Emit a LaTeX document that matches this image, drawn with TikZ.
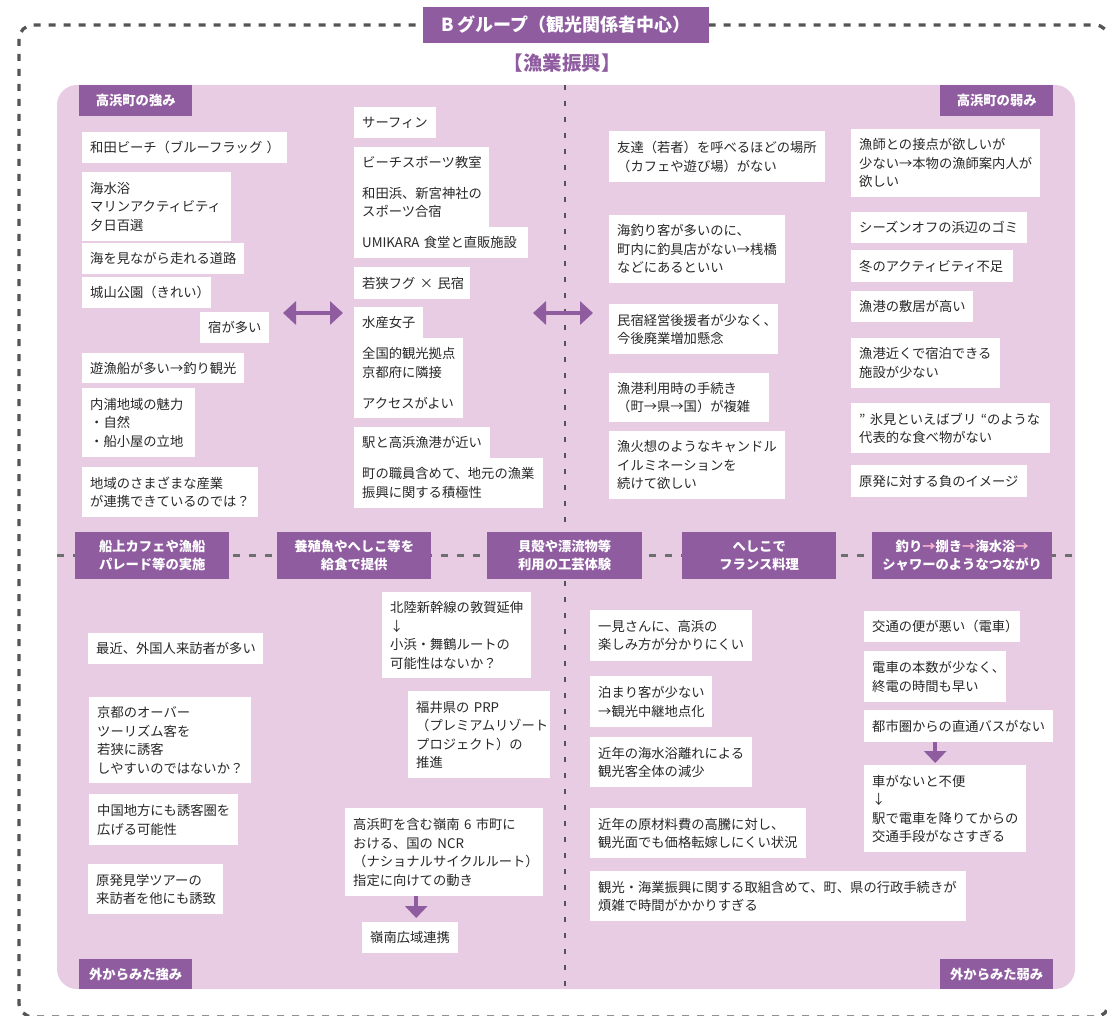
\documentclass[tikz,border=0pt]{standalone}
\usepackage{fontspec}
\setmainfont{Noto Sans CJK JP}
\usepackage{xcolor}
\definecolor{tkpurple}{RGB}{143,92,160}
\definecolor{tkpink}{RGB}{231,204,227}
\definecolor{tkgray}{RGB}{85,85,85}
\definecolor{tktext}{RGB}{40,40,40}
\definecolor{tkarrow}{RGB}{249,182,206}
\usetikzlibrary{arrows.meta,positioning,calc}

\begin{document}
\begin{tikzpicture}[x=1pt, y=-1pt,
  every node/.style={font=\fontsize{13.3}{18.5}\selectfont},
  cell/.style={fill=white, text=tktext, anchor=north west, align=left, inner xsep=8pt, inner ysep=0pt},
  tag/.style={fill=tkpurple, text=white, font=\fontsize{13.3}{18}\selectfont\bfseries, align=center, inner sep=0pt, anchor=north west},
  frame/.style={draw=tkgray, line width=3.3pt, dash pattern=on 7pt off 8pt, rounded corners=14pt},
  vline/.style={draw=tkgray, line width=2.5pt, dash pattern=on 5pt off 11pt},
  hline/.style={draw=tkgray!85, line width=3pt, dash pattern=on 7pt off 9pt},
  dblarrow/.style={draw=tkpurple, line width=4pt, {Triangle[length=13pt,width=23pt]}-{Triangle[length=13pt,width=23pt]}},
  dnarrow/.style={draw=tkpurple, line width=4pt, -{Triangle[length=12pt,width=22pt]}}]
  \clip (0,0) rectangle (1107,1016);

  % Outer frame and panel
  \draw[frame] (19,25) rectangle (1109,1017);
  \fill[tkpink, rounded corners=20pt] (57,85) rectangle (1075,989);
  \draw[vline] (565,85) -- (565,989);
  \draw[hline] (57,555) -- (1075,555);

  % Title
  \node[tag, anchor=center, minimum width=286pt, minimum height=36pt, font=\fontsize{18}{20}\selectfont\bfseries] (title) at (566,25) {B グループ（観光関係者中心）};
  \node[text=tkpurple, font=\fontsize{19.5}{21}\selectfont\bfseries, inner sep=0pt] (subtitle) at (562,63) {【漁業振興】};

  % Corner tags
  \node[tag, minimum width=113pt, minimum height=31pt] (tagst) at (79,85) {高浜町の強み};
  \node[tag, minimum width=113pt, minimum height=31pt] (tagwk) at (940,85) {高浜町の弱み};
  \node[tag, minimum width=113pt, minimum height=30pt] (tagos) at (79,959) {外からみた強み};
  \node[tag, minimum width=113pt, minimum height=30pt] (tagow) at (940,959) {外からみた弱み};

  % Strengths (left column)
  \node[cell, text width=189pt, minimum height=31pt] (st1) at (82,132) {和田ビーチ（ブルーフラッグ~）};
  \node[cell, text width=133pt, minimum height=69pt] (st2) at (82,172) {海水浴\\マリンアクティビティ\\夕日百選};
  \node[cell, text width=146pt, minimum height=31pt] (st3) at (82,243) {海を見ながら走れる道路};
  \node[cell, text width=113pt, minimum height=31pt] (st4) at (82,277) {城山公園（きれい）};
  \node[cell, text width=53pt, minimum height=31pt] (st5) at (200,312) {宿が多い};
  \node[cell, text width=146pt, minimum height=30pt] (st6) at (82,353) {遊漁船が多い→釣り観光};
  \node[cell, text width=97pt, minimum height=69pt] (st7) at (82,388) {内浦地域の魅力\\・自然\\・船小屋の立地};
  \node[cell, text width=160pt, minimum height=50pt] (st8) at (82,467) {地域のさまざまな産業\\が連携できているのでは？};

  % Strengths (middle column)
  \node[cell, text width=66pt, minimum height=31pt] (st9) at (354,107) {サーフィン};
  \node[cell, text width=119pt, minimum height=31pt] (st10) at (354,147) {ビーチスポーツ教室};
  \node[cell, text width=119pt, minimum height=49pt] (st11) at (354,178) {和田浜、新宮神社の\\スポーツ合宿};
  \node[cell, text width=158pt, minimum height=31pt] (st12) at (354,227) {UMIKARA~食堂と直販施設};
  \node[cell, text width=100pt, minimum height=32pt] (st13) at (354,267) {若狭フグ~×~民宿};
  \node[cell, text width=53pt, minimum height=31pt] (st14) at (354,307) {水産女子};
  \node[cell, text width=93pt, minimum height=49pt] (st15) at (354,338) {全国的観光拠点\\京都府に隣接};
  \node[cell, text width=93pt, minimum height=31pt] (st16) at (354,387) {アクセスがよい};
  \node[cell, text width=120pt, minimum height=31pt] (st17) at (354,427) {駅と高浜漁港が近い};
  \node[cell, text width=173pt, minimum height=50pt] (st18) at (354,458) {町の職員含めて、地元の漁業\\振興に関する積極性};

  % Weaknesses
  \node[cell, text width=200pt, minimum height=51pt] (wk1) at (609,131) {友達（若者）を呼べるほどの場所\\（カフェや遊び場）がない};
  \node[cell, text width=160pt, minimum height=68pt] (wk2) at (609,215) {海釣り客が多いのに、\\町内に釣具店がない→桟橋\\などにあるといい};
  \node[cell, text width=153pt, minimum height=50pt] (wk3) at (609,304) {民宿経営後援者が少なく、\\今後廃業増加懸念};
  \node[cell, text width=144pt, minimum height=49pt] (wk4) at (609,373) {漁港利用時の手続き\\（町→県→国）が複雑};
  \node[cell, text width=160pt, minimum height=68pt] (wk5) at (609,431) {漁火想のようなキャンドル\\イルミネーションを\\続けて欲しい};
  \node[cell, text width=173pt, minimum height=68pt] (wk6) at (851,129) {漁師との接点が欲しいが\\少ない→本物の漁師案内人が\\欲しい};
  \node[cell, text width=160pt, minimum height=31pt] (wk7) at (851,212) {シーズンオフの浜辺のゴミ};
  \node[cell, text width=146pt, minimum height=32pt] (wk8) at (851,250) {冬のアクティビティ不足};
  \node[cell, text width=106pt, minimum height=31pt] (wk9) at (851,291) {漁港の敷居が高い};
  \node[cell, text width=133pt, minimum height=50pt] (wk10) at (851,338) {漁港近くで宿泊できる\\施設が少ない};
  \node[cell, text width=183pt, minimum height=50pt] (wk11) at (851,403) {”~氷見といえばブリ~“のような\\代表的な食べ物がない};
  \node[cell, text width=160pt, minimum height=32pt] (wk12) at (851,465) {原発に対する負のイメージ};

  % Arrows between columns
  \coordinate (la) at (283,313);
  \coordinate (lb) at (343,313);
  \coordinate (ra) at (533,313);
  \coordinate (rb) at (593,313);
  \draw[dblarrow] (la) -- (lb);
  \draw[dblarrow] (ra) -- (rb);

  % Ideas on the divider
  \node[tag, minimum width=154pt, minimum height=47pt] (bar1) at (75,532) {船上カフェや漁船\\パレード等の実施};
  \node[tag, minimum width=154pt, minimum height=47pt] (bar2) at (277,532) {養殖魚やへしこ等を\\給食で提供};
  \node[tag, minimum width=155pt, minimum height=47pt] (bar3) at (487,532) {貝殻や漂流物等\\利用の工芸体験};
  \node[tag, minimum width=154pt, minimum height=47pt] (bar4) at (682,532) {へしこで\\フランス料理};
  \node[tag, minimum width=180pt, minimum height=47pt] (bar5) at (872,532) {釣り{\color{tkarrow}→}捌き{\color{tkarrow}→}海水浴{\color{tkarrow}→}\\シャワーのようなつながり};

  % Outside strengths
  \node[cell, text width=159pt, minimum height=31pt] (os1) at (88,633) {最近、外国人来訪者が多い};
  \node[cell, text width=146pt, minimum height=86pt] (os2) at (89,697) {京都のオーバー\\ツーリズム客を\\若狭に誘客\\しやすいのではないか？};
  \node[cell, text width=133pt, minimum height=51pt] (os3) at (89,794) {中国地方にも誘客圏を\\広げる可能性};
  \node[cell, text width=119pt, minimum height=50pt] (os4) at (88,864) {原発見学ツアーの\\来訪者を他にも誘致};
  \node[cell, text width=133pt, minimum height=86pt] (os5) at (382,592) {北陸新幹線の敦賀延伸\\↓\\小浜・舞鶴ルートの\\可能性はないか？};
  \node[cell, text width=126pt, minimum height=87pt] (os6) at (408,691) {福井県の~PRP\\（プレミアムリゾート\\プロジェクト）の\\推進};
  \node[cell, text width=182pt, minimum height=88pt] (os7) at (345,808) {高浜町を含む嶺南~6~市町に\\おける、国の~NCR\\（ナショナルサイクルルート）\\指定に向けての動き};
  \node[cell, text width=80pt, minimum height=31pt] (os8) at (362,922) {嶺南広域連携};
  \draw[dnarrow, shorten >=4pt] ([xshift=6pt]os8.north |- os7.south) -- ([xshift=6pt]os8.north);

  % Outside weaknesses
  \node[cell, text width=146pt, minimum height=51pt] (ow1) at (590,610) {一見さんに、高浜の\\楽しみ方が分かりにくい};
  \node[cell, text width=106pt, minimum height=51pt] (ow2) at (590,676) {泊まり客が少ない\\→観光中継地点化};
  \node[cell, text width=146pt, minimum height=50pt] (ow3) at (590,737) {近年の海水浴離れによる\\観光客全体の減少};
  \node[cell, text width=200pt, minimum height=50pt] (ow4) at (590,808) {近年の原材料費の高騰に対し、\\観光面でも価格転嫁しにくい状況};
  \node[cell, text width=360pt, minimum height=50pt] (ow5) at (590,871) {観光・海業振興に関する取組含めて、町、県の行政手続きが\\煩雑で時間がかかりすぎる};
  \node[cell, text width=140pt, minimum height=31pt] (ow6) at (864,611) {交通の便が悪い（電車）};
  \node[cell, text width=126pt, minimum height=51pt] (ow7) at (864,651) {電車の本数が少なく、\\終電の時間も早い};
  \node[cell, text width=173pt, minimum height=32pt] (ow8) at (864,710) {都市圏からの直通バスがない};
  \node[cell, text width=146pt, minimum height=87pt] (ow9) at (864,765) {車がないと不便\\↓\\駅で電車を降りてからの\\交通手段がなさすぎる};
  \draw[dnarrow, shorten >=2pt] ([xshift=-10pt]ow9.north |- ow8.south) -- ([xshift=-10pt]ow9.north);
\end{tikzpicture}
\end{document}
